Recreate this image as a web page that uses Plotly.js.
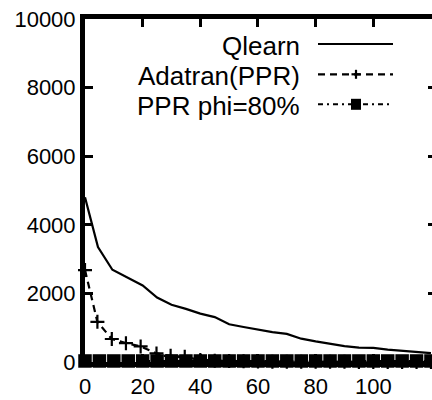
<!DOCTYPE html>
<html><head><meta charset="utf-8">
<script src="https://cdn.plot.ly/plotly-3.0.1.min.js"></script>
<style>html,body{margin:0;padding:0;overflow:hidden;background:#fff;width:432px;height:400px}#c{width:440px;height:400px}</style>
</head><body><div id="c"></div><script>
// ---- data ----
const seriesNames = ["Qlearn", "Adatran(PPR)", "PPR phi=80%"];
const qlearnX = [0, 4.5, 9.5, 14.5, 20, 25, 30, 35, 40, 45, 50, 55, 60, 65, 70, 75, 80, 85, 90, 95, 100, 105, 110, 115, 120];
const qlearnY = [4800, 3350, 2690, 2470, 2230, 1880, 1670, 1550, 1410, 1310, 1100, 1020, 947, 870, 820, 680, 600, 522, 464, 420, 410, 360, 330, 290, 260];
const adaX = [0, 4.3, 9.3, 14.2, 19.3, 24.8, 29.7, 34.6, 40, 45, 50, 55, 60, 65, 70, 75, 80, 85, 90, 95, 100, 105, 110, 115, 120];
const adaY = [2680, 1170, 670, 550, 455, 250, 180, 150, 60, 40, 30, 20, 15, 10, 10, 8, 6, 5, 4, 3, 2, 2, 1, 1, 0];
const pprX = [0, 5, 10, 15, 20, 25, 30, 35, 40, 45, 50, 55, 60, 65, 70, 75, 80, 85, 90, 95, 100, 105, 110, 115, 120];
const pprY = [30, 30, 30, 30, 30, 30, 30, 30, 30, 30, 30, 30, 30, 30, 30, 30, 30, 30, 30, 30, 30, 30, 30, 30, 30];
const xTicks = [0, 20, 40, 60, 80, 100];
const xTickText = ["0", "20", "40", "60", "80", "100"];
const yTicks = [0, 2000, 4000, 6000, 8000, 10000];
const yTickText = ["0", "2000", "4000", "6000", "8000", "10000"];

// ---- layout geometry ----
const W = 440, H = 400, L = 85, R = 4, T = 19, B = 38;
const pw = W - L - R, ph = H - T - B;
const px = x => (x - L) / pw;
const py = y => (H - B - y) / ph;
const FONT = "Liberation Sans, Arial, Helvetica, sans-serif";

const traces = [
  {x: qlearnX, y: qlearnY, name: seriesNames[0], mode: "lines", line: {color: "#000", width: 2.2}, showlegend: false},
  {x: adaX, y: adaY, name: seriesNames[1], mode: "lines+markers", line: {color: "#000", width: 2.2, dash: "7px,5px"},
   marker: {symbol: "cross-thin", size: 10, line: {color: "#000", width: 2.2}}, showlegend: false, cliponaxis: false},
  {x: pprX, y: pprY, name: seriesNames[2], mode: "lines+markers", line: {color: "#000", width: 2, dash: "5px,4px,2px,4px"},
   marker: {symbol: "square", size: 13.5, color: "#000"}, showlegend: false, cliponaxis: false}
];

// legend drawn manually (gnuplot style: text right, sample on the right)
const rows = [44, 74.3, 104.3];
const sx0 = 318, sx1 = 393, mx = 356;
const annotations = seriesNames.map((n, i) => ({
  text: n, xref: "paper", yref: "paper", x: px(302), y: py(rows[i] + 2), xanchor: "right", yanchor: "middle",
  showarrow: false, font: {family: FONT, size: 26, color: "#000"}
}));
const shapes = [
  {type: "line", xref: "paper", yref: "paper", x0: px(sx0), x1: px(sx1), y0: py(rows[0]), y1: py(rows[0]), line: {color: "#000", width: 2.2}},
  {type: "line", xref: "paper", yref: "paper", x0: px(sx0), x1: px(sx1), y0: py(rows[1]), y1: py(rows[1]), line: {color: "#000", width: 2.2, dash: "7px,5px"}},
  {type: "line", xref: "paper", yref: "paper", x0: px(mx - 4.5), x1: px(mx + 4.5), y0: py(rows[1]), y1: py(rows[1]), line: {color: "#000", width: 2.2}},
  {type: "line", xref: "paper", yref: "paper", x0: px(mx), x1: px(mx), y0: py(rows[1] - 4.5), y1: py(rows[1] + 4.5), line: {color: "#000", width: 2.2}},
  {type: "line", xref: "paper", yref: "paper", x0: px(sx0), x1: px(sx1), y0: py(rows[2]), y1: py(rows[2]), line: {color: "#000", width: 2, dash: "5px,4px,2px,4px"}},
  {type: "rect", xref: "paper", yref: "paper", x0: px(mx - 5), x1: px(mx + 5), y0: py(rows[2] - 5.5), y1: py(rows[2] + 5.5), line: {width: 0}, fillcolor: "#000"}
];

const axisCommon = {
  showgrid: false, zeroline: false, showline: true, linewidth: 5, linecolor: "#000",
  mirror: "ticks", ticks: "inside", ticklen: 8, tickwidth: 3, tickcolor: "#000",
  tickfont: {family: FONT, size: 22, color: "#000"}, fixedrange: true
};

const layout = {
  width: W, height: H, margin: {l: L, r: R, t: T, b: B, pad: 0},
  paper_bgcolor: "#fff", plot_bgcolor: "#fff", showlegend: false,
  xaxis: Object.assign({}, axisCommon, {range: [0, pw / 2.883], tickmode: "array", tickvals: xTicks, ticktext: xTickText, ticklabelstandoff: 1}),
  yaxis: Object.assign({}, axisCommon, {range: [0, 10000], tickmode: "array", tickvals: yTicks, ticktext: yTickText}),
  annotations: annotations, shapes: shapes
};

Plotly.newPlot("c", traces, layout, {staticPlot: true, displayModeBar: false});
</script></body></html>
